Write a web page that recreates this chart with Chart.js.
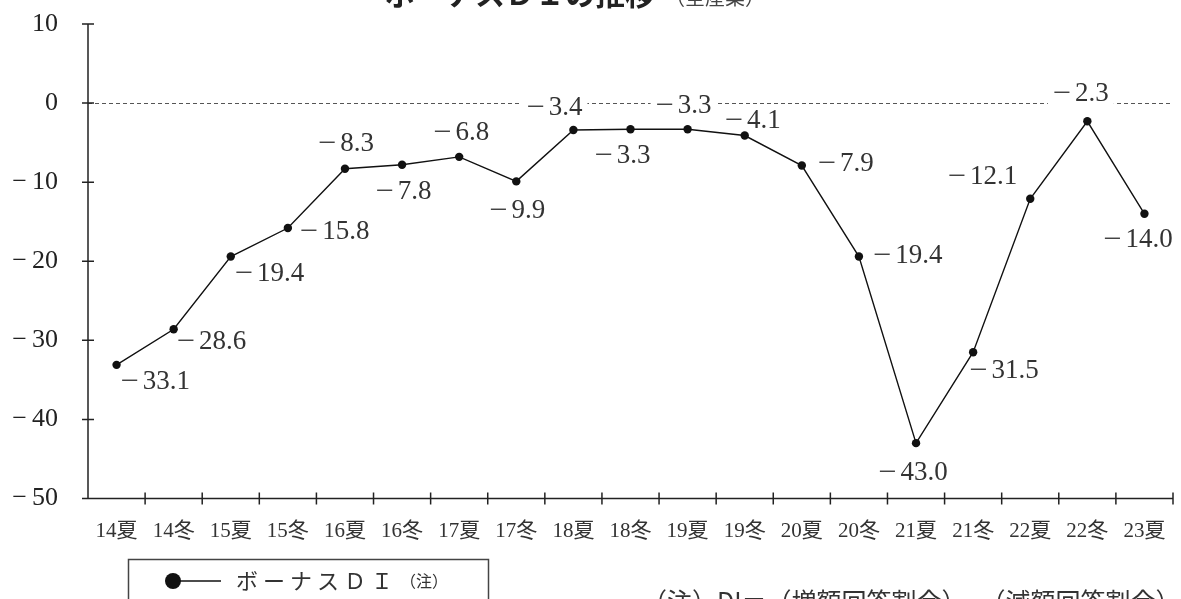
<!DOCTYPE html>
<html><head><meta charset="utf-8">
<script src="https://cdn.jsdelivr.net/npm/chart.js@4/dist/chart.umd.min.js"></script>
<style>html,body{margin:0;padding:0;background:#fff;overflow:hidden;}</style>
</head><body>
<canvas id="c" width="1181" height="599"></canvas>
<script>
const categories = ['14夏','14冬','15夏','15冬','16夏','16冬','17夏','17冬','18夏','18冬','19夏','19冬','20夏','20冬','21夏','21冬','22夏','22冬','23夏'];
const bonusDI = [-33.1,-28.6,-19.4,-15.8,-8.3,-7.8,-6.8,-9.9,-3.4,-3.3,-3.3,-4.1,-7.9,-19.4,-43.0,-31.5,-12.1,-2.3,-14.0];
const yTickValues = [10,0,-10,-20,-30,-40,-50];
const seriesName = 'ボーナスＤＩ';
const seriesNote = '（注）';
const titleMain = 'ボーナスＤＩの推移';
const titleSub = '（全産業）';
const noteText = '（注）DI＝（増額回答割合）−（減額回答割合）';

// data label placement per point: [align, dx, dy] (pixels, relative to the point)
const labelPlace = [
  ['left',4,17],['left',3,13],['left',4,17],['left',12,4],['center',1,-25],
  ['center',1.5,27],['center',2,-23.5],['center',1,30],['center',-19,-22],['center',-8,27],
  ['center',-4,-23],['center',8,-15],['left',16,-2],['left',14,-1],['center',-3,29.5],
  ['left',-4,19],['right',-13,-21.5],['center',-6.5,-27],['center',-6.5,26]
];

const fmtTick = v => v < 0 ? '\u2212\u2009' + Math.abs(v) : String(v);

const SERIF = "'Liberation Serif','Noto Sans CJK JP',serif";
const CJK = "'Noto Sans CJK JP','Liberation Sans',sans-serif";
const MINUS_SCALE = 1.2;
const MINUS_GAP = 4;

function drawLabel(ctx, v, left, cy) {
  const num = Math.abs(v).toFixed(1);
  if (v < 0) {
    const mw = ctx.measureText('\u2212').width;
    ctx.save();
    ctx.translate(left, cy);
    ctx.scale(MINUS_SCALE, 1);
    ctx.fillText('\u2212', 0, 0);
    ctx.restore();
    ctx.fillText(num, left + mw * MINUS_SCALE + MINUS_GAP, cy);
  } else {
    ctx.fillText(num, left, cy);
  }
}
function labelWidth(ctx, v) {
  const num = Math.abs(v).toFixed(1);
  return ctx.measureText(num).width + (v < 0 ? ctx.measureText('\u2212').width * MINUS_SCALE + MINUS_GAP : 0);
}

const decor = {
  id: 'decor',
  beforeDatasetsDraw(chart) {
    const ctx = chart.ctx, ys = chart.scales.y, a = chart.chartArea;
    const y0 = ys.getPixelForValue(0);
    ctx.save();
    ctx.strokeStyle = '#555'; ctx.lineWidth = 1; ctx.setLineDash([4,3]);
    ctx.beginPath(); ctx.moveTo(a.left, Math.round(y0)+0.5); ctx.lineTo(a.right, Math.round(y0)+0.5); ctx.stroke();
    ctx.setLineDash([]);
    const meta = chart.getDatasetMeta(0);
    ctx.font = "27px " + SERIF;
    ctx.textBaseline = 'middle';
    ctx.textAlign = 'left';
    meta.data.forEach((pt, i) => {
      const [al, dx, dy] = labelPlace[i];
      const v = bonusDI[i];
      const w = labelWidth(ctx, v);
      let left;
      if (al === 'left') left = pt.x + dx;
      else if (al === 'right') left = pt.x + dx - w;
      else left = pt.x + dx - w/2;
      const cy = pt.y + dy;
      ctx.fillStyle = '#fff';
      ctx.fillRect(left - 5, cy - 11, w + 10, 22);
      ctx.fillStyle = '#333';
      drawLabel(ctx, v, left, cy);
    });
    ctx.restore();
  },
  afterDatasetsDraw(chart) {
    const ctx = chart.ctx, xs = chart.scales.x, ys = chart.scales.y, a = chart.chartArea;
    ctx.save();
    ctx.strokeStyle = '#222'; ctx.lineWidth = 1.5;
    ctx.beginPath();
    ctx.moveTo(a.left, a.top); ctx.lineTo(a.left, a.bottom); ctx.lineTo(a.right, a.bottom);
    yTickValues.forEach(v => { const p = ys.getPixelForValue(v); ctx.moveTo(a.left-6, p); ctx.lineTo(a.left+6, p); });
    const n = categories.length;
    for (let i = 1; i <= n; i++) {
      const p = i < n ? (xs.getPixelForValue(i-1) + xs.getPixelForValue(i)) / 2 : a.right;
      ctx.moveTo(p, a.bottom-6); ctx.lineTo(p, a.bottom+6);
    }
    ctx.stroke();
    // title (cropped at top)
    ctx.fillStyle = '#222';
    ctx.textBaseline = 'alphabetic'; ctx.textAlign = 'left';
    ctx.font = "bold 30px " + CJK;
    const tw = ctx.measureText(titleMain).width;
    const tx = 385;
    ctx.fillText(titleMain, tx, 5);
    ctx.font = "20px " + CJK;
    ctx.fillStyle = '#444';
    ctx.fillText(titleSub, tx + tw + 10, 5);
    // legend box
    ctx.strokeStyle = '#444'; ctx.lineWidth = 1.5;
    ctx.strokeRect(128.5, 559.5, 360, 80);
    ctx.strokeStyle = '#111'; ctx.lineWidth = 1.5;
    ctx.beginPath(); ctx.moveTo(173, 581); ctx.lineTo(221, 581); ctx.stroke();
    ctx.fillStyle = '#111';
    ctx.beginPath(); ctx.arc(173, 581, 8, 0, Math.PI*2); ctx.fill();
    ctx.fillStyle = '#333';
    ctx.textBaseline = 'middle';
    ctx.font = "22px " + CJK;
    ctx.letterSpacing = '5px';
    ctx.fillText(seriesName, 236, 581);
    const sw = ctx.measureText(seriesName).width;
    ctx.letterSpacing = '0px';
    ctx.font = "16px " + CJK;
    ctx.fillText(seriesNote, 236 + sw + 2, 581);
    // note (cropped at bottom)
    ctx.font = "25px " + CJK;
    ctx.textBaseline = 'top';
    ctx.fillText(noteText, 642, 589);
    ctx.restore();
  }
};

new Chart(document.getElementById('c'), {
  type: 'line',
  data: {
    labels: categories,
    datasets: [{
      label: seriesName,
      data: bonusDI,
      borderColor: '#111',
      backgroundColor: '#111',
      borderWidth: 1.4,
      pointRadius: 4.2,
      pointBackgroundColor: '#111',
      pointBorderWidth: 0,
      tension: 0,
      fill: false
    }]
  },
  options: {
    responsive: false,
    animation: false,
    devicePixelRatio: 1,
    layout: { padding: { top: 24, right: 8, left: 0, bottom: 0 } },
    plugins: { legend: { display: false }, title: { display: false }, tooltip: { enabled: false } },
    scales: {
      x: {
        type: 'category',
        offset: true,
        grid: { display: true, drawOnChartArea: false, drawTicks: true, tickLength: 20, color: 'rgba(0,0,0,0)', offset: true },
        border: { display: false },
        ticks: { color: '#333', font: { family: SERIF, size: 21 }, padding: 0, maxRotation: 0, autoSkip: false },
        afterFit: s => { s.height = 100.5; }
      },
      y: {
        min: -50, max: 10,
        grid: { display: true, drawOnChartArea: false, drawTicks: true, tickLength: 30, color: 'rgba(0,0,0,0)' },
        border: { display: false },
        afterBuildTicks: s => { s.ticks = yTickValues.map(v => ({ value: v })); },
        ticks: { color: '#222', font: { family: SERIF, size: 26 }, padding: 0, callback: v => fmtTick(v) },
        afterFit: s => { s.width = 88; }
      }
    }
  },
  plugins: [decor]
});
</script>
</body></html>
